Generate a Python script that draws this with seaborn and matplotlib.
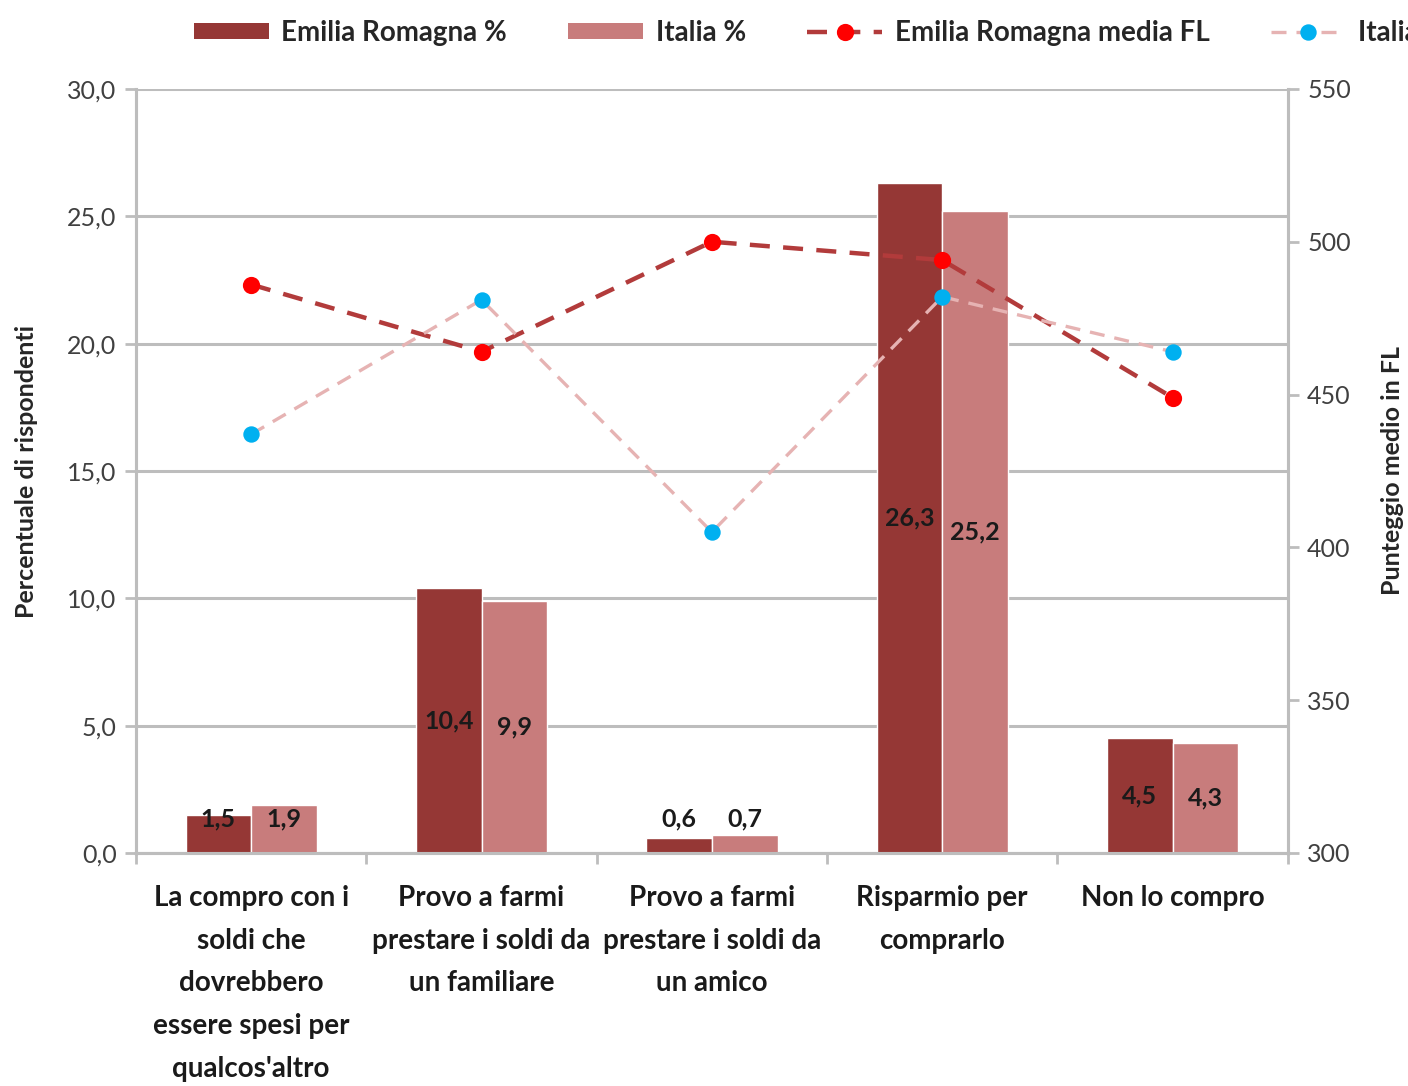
import numpy as np
import pandas as pd
import seaborn as sns
from matplotlib import pyplot as plt

# data
categories = ["La compro con i\nsoldi che\ndovrebbero\nessere spesi per\nqualcos'altro",
              "Provo a farmi\nprestare i soldi da\nun familiare",
              "Provo a farmi\nprestare i soldi da\nun amico",
              "Risparmio per\ncomprarlo",
              "Non lo compro"]
er_pct = [1.5, 10.4, 0.6, 26.3, 4.5]
it_pct = [1.9, 9.9, 0.7, 25.2, 4.3]
er_fl = [486, 464, 500, 494, 449]
it_fl = [437, 481, 405, 482, 464]

sns.set_style('white')
plt.rcParams['font.family'] = ['Lato', 'DejaVu Sans']

dark = '#953735'
light = '#C87C7C'
grid_c = '#BDBDBD'
tick_c = '#404040'

bars = pd.DataFrame({
    'cat': categories * 2,
    'val': er_pct + it_pct,
    'serie': ['Emilia Romagna %'] * 5 + ['Italia %'] * 5,
})

fig = plt.figure(figsize=(14.08, 10.86), dpi=100)
ax = fig.add_axes([0.0966, 0.2146, 0.818, 0.7035])

sns.barplot(data=bars, x='cat', y='val', hue='serie', order=categories,
            palette=[dark, light], saturation=1, width=0.57, ax=ax,
            edgecolor='white', linewidth=1, legend=False)

# data labels
for cont, vals in zip(ax.containers, [er_pct, it_pct]):
    for p, v in zip(cont, vals):
        ypos = v / 2 if v > 3 else 1.35
        ax.text(p.get_x() + p.get_width() / 2, ypos, f"{v:.1f}".replace('.', ','),
                ha='center', va='center', fontsize=18, fontweight='bold', color='#1a1a1a')

ax.set_ylim(0, 30)
ax.set_xlim(-0.5, 4.5)
ax.set_yticks(np.arange(0, 31, 5))
ax.set_yticklabels([f"{t:.1f}".replace('.', ',') for t in np.arange(0, 31, 5)],
                   fontsize=18, color=tick_c)
ax.set_axisbelow(True)
ax.yaxis.grid(True, color=grid_c, lw=2.2)
ax.tick_params(axis='y', length=8, width=2, color=grid_c, direction='out', pad=6, left=True)

ax2 = ax.twinx()
sns.pointplot(x=categories, y=er_fl, order=categories, color='#B23B3B', linestyles='--',
              markers='o', ax=ax2, markersize=10, linewidth=3.2,
              markerfacecolor='#FF0000', markeredgecolor='#FF0000',
              label='Emilia Romagna media FL', dashes=(4.5, 3))
sns.pointplot(x=categories, y=it_fl, order=categories, color='#E6B3B3', linestyles='--',
              markers='o', ax=ax2, markersize=10, linewidth=2.4,
              markerfacecolor='#00B0F0', markeredgecolor='#00B0F0',
              label='Italia media FL', dashes=(4.5, 3))
h2, l2 = ax2.get_legend_handles_labels()
if ax2.get_legend() is not None:
    ax2.get_legend().remove()
ax2.set_ylim(300, 550)
ax2.set_yticks(np.arange(300, 551, 50))
ax2.set_yticklabels([str(t) for t in range(300, 551, 50)], fontsize=18, color=tick_c)
ax2.tick_params(axis='y', length=8, width=2, color=grid_c, direction='out', pad=6, right=True)
ax2.set_ylabel('Punteggio medio in FL', fontsize=18, fontweight='bold')
ax2.yaxis.set_label_coords(1.081, 0.5)
ax2.set_xlim(-0.5, 4.5)

# x axis: labels at centers, ticks at boundaries
ax.set_xticks(range(5))
ax.set_xticklabels(categories, fontsize=20, fontweight='bold', color='#1a1a1a', linespacing=1.8)
ax.set_xticks(np.arange(-0.5, 5, 1), minor=True)
ax.tick_params(axis='x', which='major', length=0, pad=23)
ax.tick_params(axis='x', which='minor', length=8, width=2, color=grid_c, bottom=True)
ax.set_xlabel('')
ax.set_ylabel('Percentuale di rispondenti', fontsize=18, fontweight='bold')
ax.yaxis.set_label_coords(-0.085, 0.5)

for a in (ax, ax2):
    a.spines['top'].set_visible(False)
    for s in ('left', 'right', 'bottom'):
        a.spines[s].set_color(grid_c)
        a.spines[s].set_linewidth(2.2)

# legend across the top (last item runs off the edge, as in the original)
h1 = [cont.patches[0] for cont in ax.containers]
l1 = ['Emilia Romagna %', 'Italia %']
leg = fig.legend(h1 + h2, l1 + l2, loc='upper left', bbox_to_anchor=(0.12, 1.005),
                 ncol=4, frameon=False, handlelength=2.7, handleheight=0.5,
                 handletextpad=0.45, columnspacing=2.2, prop={'weight': 'bold', 'size': 20})
for h in leg.legend_handles[:2]:
    h.set_edgecolor('none')

fig.savefig('out.png', dpi=100)
